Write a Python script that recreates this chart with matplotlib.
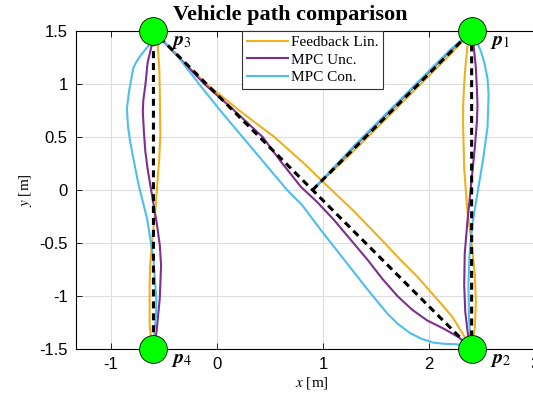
import matplotlib
matplotlib.use('Agg')
import matplotlib.pyplot as plt

# reference path (waypoints + start)
ref_x = [0.9, 2.4, 2.4, -0.6, -0.6]
ref_y = [0.0, 1.5, -1.5, 1.5, -1.5]

wp_x = [2.4, 2.4, -0.6, -0.6]
wp_y = [1.5, -1.5, 1.5, -1.5]
wp_labels = [r'$\mathbfit{p}_1$', r'$\mathbfit{p}_2$', r'$\mathbfit{p}_3$', r'$\mathbfit{p}_4$']

# Feedback linearisation
fbl_x = [0.9, 1.3, 1.8, 2.2, 2.4,
         2.36, 2.34, 2.33, 2.32, 2.32, 2.33, 2.36, 2.40, 2.43, 2.44, 2.43, 2.4,
         2.33, 2.22, 2.11, 1.89, 1.72, 1.57, 1.29, 1.08, 0.82, 0.54, 0.36, 0.21, 0.05, -0.1, -0.34, -0.6,
         -0.56, -0.545, -0.54, -0.535, -0.545, -0.557, -0.58, -0.613, -0.63, -0.636, -0.636, -0.62, -0.6]
fbl_y = [0.0, 0.38, 0.88, 1.28, 1.5,
         1.35, 1.15, 1.0, 0.8, 0.6, 0.2, -0.2, -0.5, -0.8, -1.05, -1.3, -1.5,
         -1.38, -1.2, -1.07, -0.82, -0.65, -0.49, -0.2, 0.0, 0.25, 0.5, 0.635, 0.75, 0.88, 1.0, 1.23, 1.5,
         1.37, 1.15, 0.93, 0.52, 0.3, 0.14, -0.17, -0.49, -0.7, -0.9, -1.27, -1.42, -1.5]

# MPC unconstrained
unc_x = [0.9, 1.3, 1.8, 2.2, 2.4,
         2.42, 2.44, 2.45, 2.455, 2.45, 2.43, 2.40, 2.36, 2.335, 2.33, 2.34, 2.37, 2.4,
         2.28, 2.14, 1.98, 1.84, 1.70, 1.56, 1.42, 1.10, 0.94, 0.79, 0.60, 0.43, 0.14, -0.12, -0.35, -0.6,
         -0.62, -0.655, -0.676, -0.695, -0.70, -0.69, -0.676, -0.655, -0.63, -0.566, -0.54, -0.528, -0.54, -0.57, -0.6]
unc_y = [0.0, 0.415, 0.915, 1.315, 1.5,
         1.35, 1.15, 0.95, 0.8, 0.65, 0.4, 0.1, -0.3, -0.6, -0.9, -1.15, -1.4, -1.5,
         -1.39, -1.31, -1.23, -1.13, -1.0, -0.84, -0.66, -0.28, -0.11, 0.03, 0.27, 0.5, 0.77, 1.0, 1.24, 1.5,
         1.35, 1.2, 0.99, 0.85, 0.74, 0.55, 0.36, 0.2, 0.05, -0.33, -0.52, -0.71, -1.02, -1.33, -1.5]

# MPC constrained
con_x = [0.9, 1.3, 1.8, 2.2, 2.4,
         2.45, 2.49, 2.52, 2.55, 2.56, 2.55, 2.51, 2.46, 2.41, 2.38, 2.37, 2.375, 2.39, 2.4,
         2.26, 2.15, 2.04, 1.93, 1.82, 1.7, 1.6, 1.42, 1.2, 0.98, 0.8, 0.66, 0.45, 0.24, 0.03, -0.17, -0.4, -0.6,
         -0.63, -0.68, -0.72, -0.76, -0.79, -0.83, -0.85, -0.845, -0.84, -0.82, -0.78, -0.74, -0.70, -0.66, -0.6, -0.573, -0.575, -0.59, -0.6]
con_y = [0.0, 0.425, 0.925, 1.325, 1.5,
         1.4, 1.3, 1.2, 1.05, 0.9, 0.6, 0.3, 0.0, -0.3, -0.6, -0.9, -1.2, -1.45, -1.5,
         -1.455, -1.452, -1.44, -1.405, -1.35, -1.26, -1.16, -0.94, -0.66, -0.38, -0.14, 0.0, 0.25, 0.5, 0.75, 1.0, 1.3, 1.5,
         1.38, 1.32, 1.27, 1.21, 1.15, 0.93, 0.77, 0.68, 0.6, 0.46, 0.25, 0.05, -0.11, -0.27, -0.65, -1.02, -1.18, -1.33, -1.5]

plt.rcParams['mathtext.fontset'] = 'stix'
plt.rcParams['font.family'] = 'Liberation Sans'

fig = plt.figure(figsize=(5.33, 3.94), dpi=100)
ax = fig.add_axes([76 / 533, 45 / 394, 472 / 533, 318 / 394])

ax.plot(fbl_x, fbl_y, color='#EDB120', lw=1.5, label='Feedback Lin.', zorder=3)
ax.plot(unc_x, unc_y, color='#7E2F8E', lw=1.5, label='MPC Unc.', zorder=3)
ax.plot(con_x, con_y, color='#4DBEEE', lw=1.5, label='MPC Con.', zorder=3)
ax.plot(ref_x, ref_y, color='black', lw=2.2, dashes=(2.3, 1.6), zorder=4)

ax.plot(wp_x, wp_y, 'o', ms=20, mfc='#00FF00', mec='black', mew=0.6,
        zorder=5, clip_on=False)
for x, y, lab in zip(wp_x, wp_y, wp_labels):
    ax.text(x + 0.17, y - 0.13, lab, fontsize=14.5, zorder=6)

ax.set_xlim(-1.33, 3.12)
ax.set_ylim(-1.5, 1.5)
ax.set_xticks([-1, 0, 1, 2, 3])
ax.set_yticks([-1.5, -1, -0.5, 0, 0.5, 1, 1.5])
ax.set_yticklabels(['-1.5', '-1', '-0.5', '0', '0.5', '1', '1.5'])
ax.set_xticklabels(['-1', '0', '1', '2', '3'])
ax.tick_params(direction='in', top=True, right=True, labelsize=12, length=4,
               width=0.6, pad=6)
ax.grid(True, color='#dedede', lw=0.8, zorder=0)
ax.set_axisbelow(True)
for s in ax.spines.values():
    s.set_linewidth(0.8)

ax.set_xlabel('$x$ [m]', family='Liberation Serif', fontsize=11, labelpad=2)
ax.set_ylabel('$y$ [m]', family='Liberation Serif', fontsize=11, labelpad=4)
fig.text(290 / 533, 1 - 15 / 394, 'Vehicle path comparison', family='Liberation Serif',
         fontweight='bold', fontsize=16, ha='center', va='center')

leg = ax.legend(loc='upper left', bbox_to_anchor=(0.352, 1.0), borderaxespad=0,
                prop={'family': 'Liberation Serif', 'size': 11}, fancybox=False,
                framealpha=1, edgecolor='#333333', handlelength=2.7,
                handletextpad=0.2, borderpad=0.3, labelspacing=0.25)
leg.get_frame().set_linewidth(0.8)
leg.set_zorder(7)

fig.savefig('out.png', dpi=100)
